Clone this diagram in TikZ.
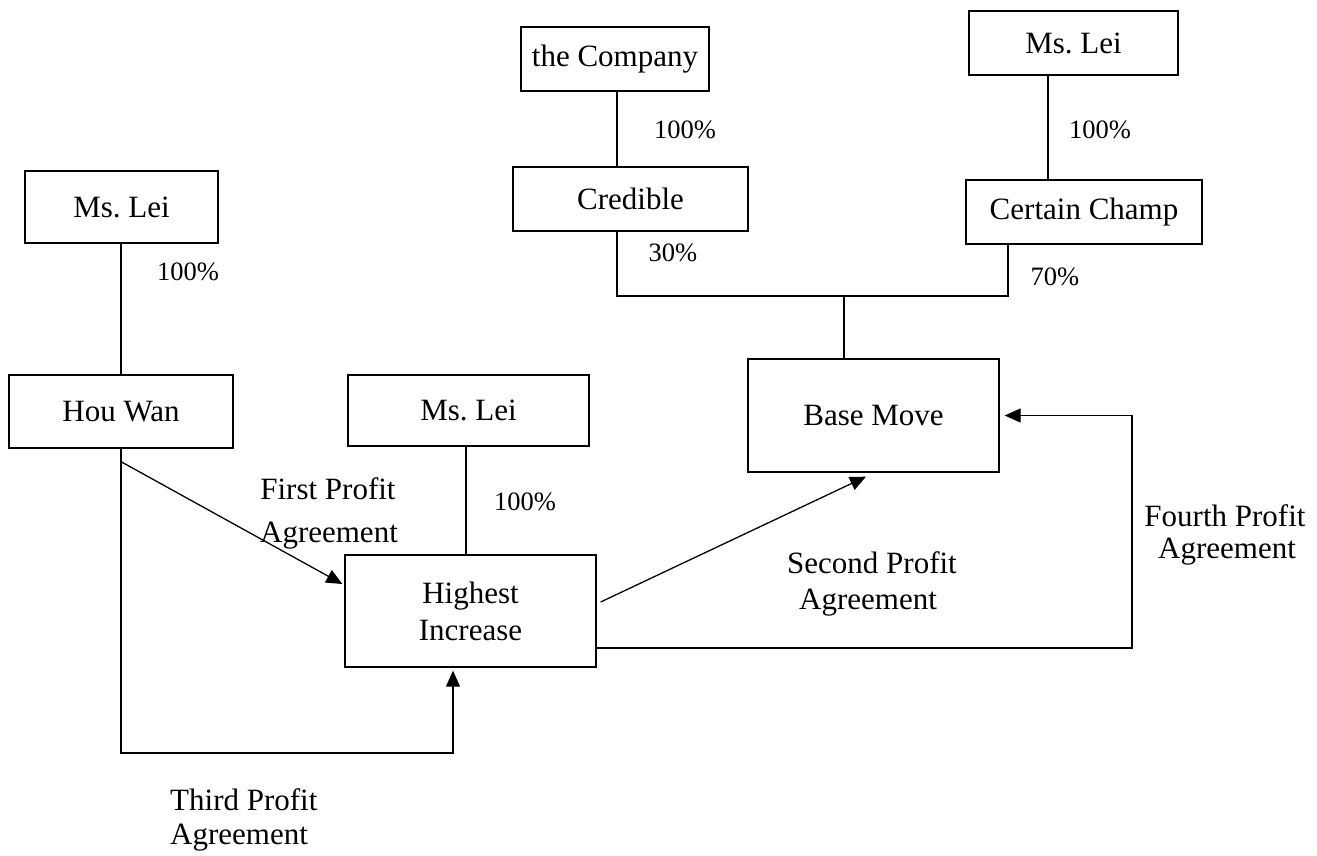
\documentclass[tikz,border=0pt]{standalone}
\usepackage{fontspec}
\setmainfont{Liberation Serif}
\usetikzlibrary{arrows.meta}
\frenchspacing
\begin{document}
\begin{tikzpicture}[x=1pt,y=-1pt,
  box/.style={draw, line width=1.3pt, rectangle, inner sep=0pt, align=center,
    font=\fontsize{31}{37}\selectfont},
  conn/.style={line width=1.3pt},
  arr/.style={line width=1.3pt, -{Triangle[length=16pt,width=14pt]}},
  pct/.style={font=\fontsize{26.5}{30}\selectfont, inner sep=0pt},
  lbl/.style={font=\fontsize{31}{36}\selectfont, inner sep=0pt}]
\useasboundingbox (0,0) rectangle (1317,855);
% boxes
\node[box, minimum width=193pt, minimum height=72pt] (ml1) at (121.5,207) {Ms. Lei};
\node[box, minimum width=224pt, minimum height=73pt] (hw) at (121,411.5) {Hou Wan};
\node[box, minimum width=241pt, minimum height=71pt] (ml2) at (468.5,410.5) {Ms. Lei};
\node[box, minimum width=251pt, minimum height=112pt] (hi) at (470.5,611) {Highest\\Increase};
\node[box, minimum width=188pt, minimum height=64pt] (co) at (615,59) {the Company};
\node[box, minimum width=235pt, minimum height=64pt] (cr) at (630.5,199) {Credible};
\node[box, minimum width=209pt, minimum height=64pt] (ml3) at (1073.5,43) {Ms. Lei};
\node[box, minimum width=236pt, minimum height=64pt] (cc) at (1084,212) {Certain Champ};
\node[box, minimum width=251pt, minimum height=113pt] (bm) at (873.5,415.5) {Base Move};
% junction coordinates
\coordinate (j1) at (617,296);
\coordinate (j2) at (1008,296);
\coordinate (j3) at (844,296);
\coordinate (c3) at (453,753);
\coordinate (c4) at (1132,648);
% ownership lines
\draw[conn] (ml1.south -| hw.north) -- (hw.north);
\draw[conn] (ml2.south -| 466,0) -- (hi.north -| 466,0);
\draw[conn] (co.south -| j1) -- (cr.north -| j1);
\draw[conn] (ml3.south -| 1048,0) -- (cc.north -| 1048,0);
\draw[conn] (cr.south -| j1) -- (j1) -- (j2) -- (cc.south -| j2);
\draw[conn] (j3) -- (bm.north -| j3);
% agreements
\draw[arr] ([yshift=-13pt]hw.south) -- ([shift={(-2pt,27pt)}]hi.west);
\draw[arr] (hw.south) |- (c3) -- ([yshift=-3pt]hi.south -| c3);
\draw[arr] ([shift={(4pt,9pt)}]hi.east) -- ([shift={(-7.5pt,-4pt)}]bm.south);
\draw[arr] ([yshift=-37pt]hi.east) -- (c4) |- ([xshift=5pt]bm.east);
% percentages
\node[pct] (p1) at (188,272) {100\%};
\node[pct] (p2) at (525,502) {100\%};
\node[pct] (p3) at (685,130) {100\%};
\node[pct] (p4) at (673,253) {30\%};
\node[pct] (p5) at (1100,130) {100\%};
\node[pct] (p6) at (1055,277) {70\%};
% agreement labels
\node[lbl] (t1) at (328,489) {First Profit};
\node[lbl] (t1b) at (329,536) {Agreement};
\node[lbl] (t2) at (872,563) {Second Profit};
\node[lbl] (t2b) at (868,603) {Agreement};
\node[lbl, anchor=west] (t3) at (170,800) {Third Profit};
\node[lbl, anchor=west] (t3b) at (170,838) {Agreement};
\node[lbl] (t4) at (1225,516) {Fourth Profit};
\node[lbl] (t4b) at (1227,552) {Agreement};
\end{tikzpicture}
\end{document}
